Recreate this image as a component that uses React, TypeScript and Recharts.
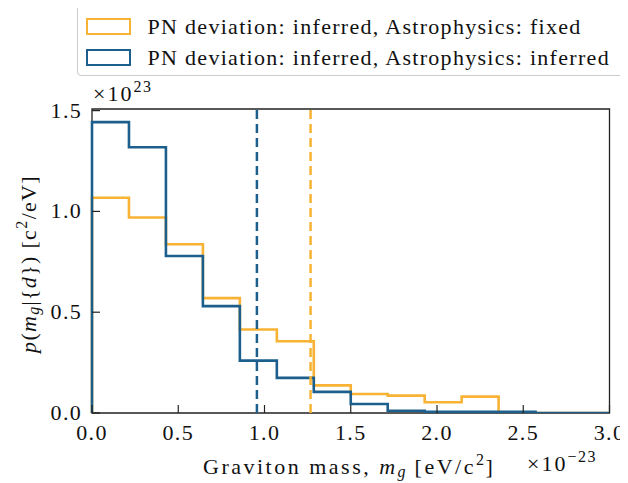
import React from "react";
import { ComposedChart, Line, XAxis, YAxis, ReferenceLine, ReferenceArea } from "recharts";

const nBins = 14;
const xMax = 3.0;
const orangeValues = [1.068, 0.970, 0.837, 0.570, 0.414, 0.356, 0.137, 0.094, 0.086, 0.053, 0.081, 0, 0, 0];
const blueValues = [1.443, 1.318, 0.779, 0.530, 0.260, 0.174, 0.105, 0.045, 0.011, 0.006, 0.006, 0.006, 0, 0];
const xTicks = [0, 0.5, 1.0, 1.5, 2.0, 2.5, 3.0];
const yTicks = [0, 0.5, 1.0, 1.5];
const orangeMedian = 1.267;
const blueMedian = 0.956;
const seriesNames = [
  "PN deviation: inferred, Astrophysics: fixed",
  "PN deviation: inferred, Astrophysics: inferred",
];

const ORANGE = "#f8b334";
const BLUE = "#1c5f8c";
const FONT = "'Liberation Serif', serif";
const FS = 22;
const LS = 1.3;
const SFS = 16;

const edges = Array.from({ length: nBins + 1 }, (_, i) => (i * xMax) / nBins);
const data = [
  { x: 0, orange: 0, blue: 0 },
  ...edges.map((e, i) => ({
    x: e,
    orange: orangeValues[Math.min(i, nBins - 1)],
    blue: blueValues[Math.min(i, nBins - 1)],
  })),
  { x: xMax, orange: 0, blue: 0 },
];

const XTick = (props: any) => {
  const { x, y, payload } = props;
  return (
    <g>
      <line x1={x} x2={x} y1={y} y2={y - 8} stroke="#222" strokeWidth={1.2} />
      <text x={x} y={y + 27} textAnchor="middle" fontFamily={FONT} fontSize={FS} letterSpacing={LS} fill="#111">
        {Number(payload.value).toFixed(1)}
      </text>
    </g>
  );
};

const YTick = (props: any) => {
  const { x, y, payload } = props;
  return (
    <g>
      <line x1={x} x2={x + 8} y1={y} y2={y} stroke="#222" strokeWidth={1.2} />
      <text x={x - 10} y={y + 7} textAnchor="end" fontFamily={FONT} fontSize={FS} letterSpacing={LS} fill="#111">
        {Number(payload.value).toFixed(1)}
      </text>
    </g>
  );
};

const Swatch = ({ color }: { color: string }) => (
  <div
    style={{
      width: 45,
      height: 17,
      border: `2.5px solid ${color}`,
      boxSizing: "border-box",
      marginRight: 17,
      flexShrink: 0,
    }}
  />
);

const Sup = ({ children }: { children: React.ReactNode }) => (
  <span style={{ position: "relative", top: -9, fontSize: SFS, letterSpacing: 1.5 }}>{children}</span>
);
const Sub = ({ children }: { children: React.ReactNode }) => (
  <span style={{ position: "relative", top: 3, fontSize: SFS, letterSpacing: 1 }}>{children}</span>
);

const textStyle: React.CSSProperties = {
  position: "absolute",
  fontSize: FS,
  letterSpacing: LS,
  color: "#111",
  whiteSpace: "nowrap",
  lineHeight: 1,
};

export default function App() {
  return (
    <div style={{ position: "relative", width: 620, height: 475, fontFamily: FONT }}>
      <ComposedChart
        width={620}
        height={467}
        data={data}
        margin={{ top: 101, right: 18.5, bottom: 32, left: 0 }}
      >
        <XAxis
          dataKey="x"
          type="number"
          domain={[0, xMax]}
          ticks={xTicks}
          height={30}
          tickSize={0}
          tickMargin={0}
          tick={<XTick />}
          axisLine={false}
          allowDuplicatedCategory
        />
        <YAxis
          type="number"
          domain={[0, 1.508]}
          ticks={yTicks}
          width={84}
          tickSize={0}
          tickMargin={0}
          tick={<YTick />}
          axisLine={false}
          allowDataOverflow
        />
        <ReferenceArea x1={0} x2={xMax} y1={0} y2={1.508} fill="none" stroke="#222" strokeWidth={1.3} ifOverflow="visible" />
        <Line
          type="stepAfter"
          dataKey="orange"
          stroke={ORANGE}
          strokeWidth={2.6}
          dot={false}
          isAnimationActive={false}
          name={seriesNames[0]}
        />
        <Line
          type="stepAfter"
          dataKey="blue"
          stroke={BLUE}
          strokeWidth={2.6}
          dot={false}
          isAnimationActive={false}
          name={seriesNames[1]}
        />
        <ReferenceLine x={blueMedian} stroke={BLUE} strokeWidth={2.5} strokeDasharray="9 5" />
        <ReferenceLine x={orangeMedian} stroke={ORANGE} strokeWidth={2.5} strokeDasharray="9 5" />
      </ComposedChart>

      {/* legend */}
      <div
        style={{
          position: "absolute",
          left: 68.5,
          top: -4,
          width: 551,
          height: 72,
          border: "1.5px solid #cccccc",
          borderRadius: 4,
          boxSizing: "border-box",
          background: "#fff",
          padding: "6px 0 0 8px",
          fontSize: FS,
          letterSpacing: LS,
          color: "#111",
        }}
      >
        {seriesNames.map((n, i) => (
          <div key={n} style={{ display: "flex", alignItems: "center", height: 31, whiteSpace: "nowrap" }}>
            <Swatch color={i === 0 ? ORANGE : BLUE} />
            <span>{n}</span>
          </div>
        ))}
      </div>

      {/* y multiplier */}
      <div style={{ ...textStyle, left: 85, top: 75, letterSpacing: 2 }}>
        ×10<Sup>23</Sup>
      </div>

      {/* x multiplier */}
      <div style={{ ...textStyle, left: 519, top: 445, letterSpacing: 2 }}>
        ×10<Sup>−23</Sup>
      </div>

      {/* x label */}
      <div style={{ ...textStyle, left: 195, top: 448, letterSpacing: 2.5 }}>
        Graviton mass, <i>m</i>
        <Sub><i>g</i></Sub> [eV/c<Sup>2</Sup>]
      </div>

      {/* y label */}
      <div
        style={{
          ...textStyle,
          left: 21,
          top: 256,
          transform: "translate(-50%, -50%) rotate(-90deg)",
        }}
      >
        <i>p</i>(<i>m</i>
        <Sub><i>g</i></Sub>|{"{"}
        <i>d</i>{"}"}) [c<Sup>2</Sup>/eV]
      </div>
    </div>
  );
}
